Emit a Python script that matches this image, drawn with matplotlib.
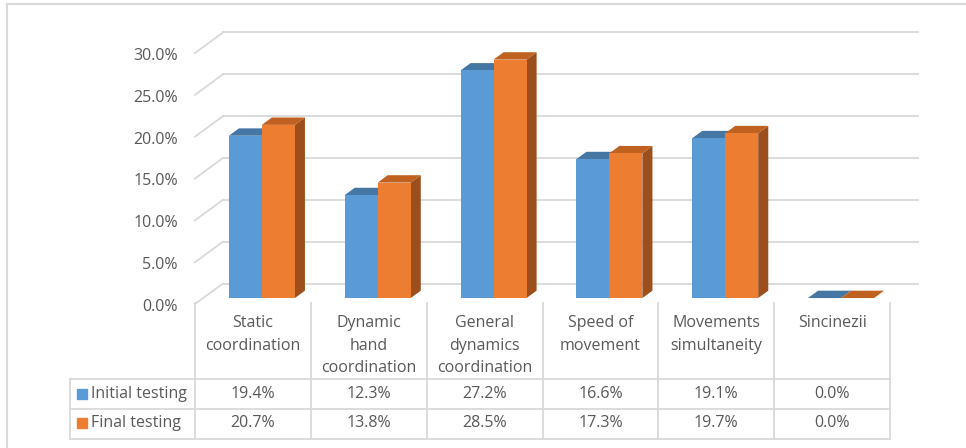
import numpy as np
import matplotlib.pyplot as plt
from matplotlib.patches import Polygon
from matplotlib import transforms

# data
categories = ["Static\ncoordination", "Dynamic\nhand\ncoordination",
              "General\ndynamics\ncoordination", "Speed of\nmovement",
              "Movements\nsimultaneity", "Sincinezii"]
series_names = ["Initial testing", "Final testing"]
initial = [19.4, 12.3, 27.2, 16.6, 19.1, 0.0]
final = [20.7, 13.8, 28.5, 17.3, 19.7, 0.0]
yticks = [0, 5, 10, 15, 20, 25, 30]

# colours: front, top, side
blue = ("#5B9BD5", "#4676A3", "#3E6A94")
orange = ("#ED7D31", "#C0611F", "#9C4F1C")
grid_c = "#D9D9D9"
text_c = "#595959"

W, H = 966, 448
plt.rcParams['font.family'] = ['Open Sans', 'DejaVu Sans']
fig = plt.figure(figsize=(W / 100, H / 100), dpi=100)

# pixel overlay for frame + table
tab = fig.add_axes([0, 0, 1, 1])
tab.set_xlim(0, W)
tab.set_ylim(H, 0)
tab.axis('off')

# plot area (front plane)
ax = fig.add_axes([195 / W, (H - 304) / H, 695 / W, 251 / H])
ax.set_xlim(0, len(categories))
ax.set_ylim(0, 30)
ax.axis('off')

n = len(categories)
DX = 28 / 695 * n      # depth of the back wall in category units
DY = 20.5 / 251 * 30   # ... and in percent units

# back wall gridlines + diagonals + tick labels
for v in yticks:
    ax.plot([0, DX], [v, v + DY], color=grid_c, lw=1.3, clip_on=False, zorder=1)
    ax.plot([DX, n + DX], [v + DY, v + DY], color=grid_c, lw=1.3, clip_on=False, zorder=1)
    ax.text(-0.147, v - 0.35, f"{v:.1f}%", ha='right', va='center',
            fontsize=11.5, color=text_c)

# 3d bars
t0 = 0.29
sx, sy = t0 * DX, t0 * DY
bdx, bdy = 0.36 * DX, 0.36 * DY
w = 0.285
off = 0.222
for i, (vals, cols) in enumerate([(initial, blue), (final, orange)]):
    x = np.arange(n) + off + i * w + sx
    z = 2 + 2 * i
    for xj, v in zip(x, vals):
        side = [(xj + w, sy), (xj + w + bdx, sy + bdy),
                (xj + w + bdx, sy + v + bdy), (xj + w, sy + v)]
        top = [(xj, sy + v), (xj + bdx, sy + v + bdy),
               (xj + w + bdx, sy + v + bdy), (xj + w, sy + v)]
        ax.add_patch(Polygon(side, closed=True, fc=cols[2], ec='none',
                             clip_on=False, zorder=z))
        ax.add_patch(Polygon(top, closed=True, fc=cols[1], ec='none',
                             clip_on=False, zorder=z))
    ax.bar(x, vals, w, bottom=sy, align='edge', color=cols[0],
           clip_on=False, zorder=z + 1)

# data table
bt = transforms.blended_transform_factory(ax.transData, tab.transData)
lx = (70 - 195) / 695 * n
for k in range(n + 1):
    tab.plot([k, k], [303, 439], color=grid_c, lw=1.3, transform=bt)
tab.plot([lx, lx], [379, 439], color=grid_c, lw=1.3, transform=bt)
for yy in [379, 409, 439]:
    tab.plot([lx, n], [yy, yy], color=grid_c, lw=1.3, transform=bt)

for k, lab in enumerate(categories):
    for m, line in enumerate(lab.split("\n")):
        tab.text(k + 0.5, 323 + m * 22.5, line, ha='center', va='center',
                 fontsize=11.5, color=text_c, transform=bt)

row_y = [394, 423]
for name, vals, cols, yy in zip(series_names, [initial, final], [blue, orange], row_y):
    tab.plot(82, yy, marker='s', ms=7, color=cols[0])
    tab.text(91, yy, name, ha='left', va='center', fontsize=11.5, color=text_c)
    for k, v in enumerate(vals):
        tab.text(k + 0.5, yy, f"{v:.1f}%", ha='center', va='center',
                 fontsize=11.5, color=text_c, transform=bt)

# outer frame
tab.plot([7, W], [4, 4], color=grid_c, lw=1.5)
tab.plot([7, 7], [4, H], color=grid_c, lw=1.5)

fig.savefig("out.png", dpi=100)
